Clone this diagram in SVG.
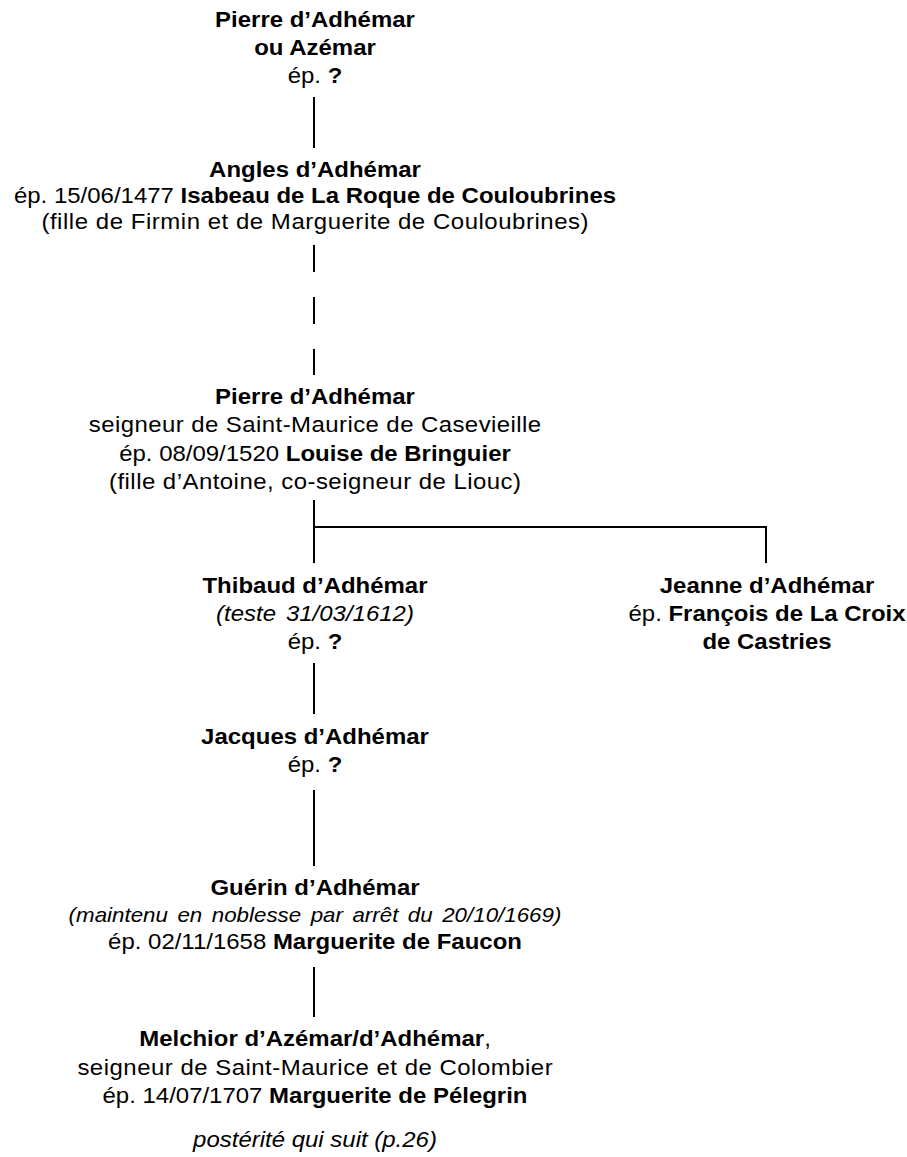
<svg xmlns="http://www.w3.org/2000/svg" width="907" height="1157" viewBox="0 0 907 1157">
<style>
text { font-family: "Liberation Sans", Arial, Helvetica, sans-serif; font-size: 22px; fill: #000; text-anchor: middle; }
.b { font-weight: bold; }
.i { font-style: italic; }
.ln { stroke: #000; stroke-width: 2; fill: none; }
</style>
<rect x="0" y="0" width="907" height="1157" fill="#fff"/>
<g id="connectors" class="ln">
  <line x1="314" y1="97" x2="314" y2="148"/>
  <line x1="314" y1="245" x2="314" y2="375" stroke-dasharray="27 25"/>
  <line x1="314" y1="500" x2="314" y2="563"/>
  <line x1="313" y1="527" x2="767" y2="527"/>
  <line x1="766" y1="527" x2="766" y2="563"/>
  <line x1="314" y1="663" x2="314" y2="714"/>
  <line x1="314" y1="790" x2="314" y2="866"/>
  <line x1="314" y1="967" x2="314" y2="1017"/>
</g>
<g transform="scale(1.09 1)">
  <g id="pierre1">
    <text x="289" y="27" class="b">Pierre d’Adhémar</text>
    <text x="289" y="55" class="b">ou Azémar</text>
    <text x="289" y="83">ép. <tspan class="b">?</tspan></text>
  </g>
  <g id="angles">
    <text x="289" y="177" class="b">Angles d’Adhémar</text>
    <text x="289" y="203">ép. 15/06/1477 <tspan class="b">Isabeau de La Roque de Couloubrines</tspan></text>
    <text x="289" y="229" textLength="502">(fille de Firmin et de Marguerite de Couloubrines)</text>
  </g>
  <g id="pierre2">
    <text x="289" y="404" class="b">Pierre d’Adhémar</text>
    <text x="289" y="432" textLength="415">seigneur de Saint-Maurice de Casevieille</text>
    <text x="289" y="461">ép. 08/09/1520 <tspan class="b">Louise de Bringuier</tspan></text>
    <text x="289" y="489" textLength="378">(fille d’Antoine, co-seigneur de Liouc)</text>
  </g>
  <g id="thibaud">
    <text x="289" y="593" class="b">Thibaud d’Adhémar</text>
    <text x="289" y="621" class="i" word-spacing="3">(teste 31/03/1612)</text>
    <text x="289" y="649">ép. <tspan class="b">?</tspan></text>
  </g>
  <g id="jeanne">
    <text x="703.7" y="593" class="b">Jeanne d’Adhémar</text>
    <text x="703.7" y="621">ép. <tspan class="b">François de La Croix</tspan></text>
    <text x="703.7" y="649" class="b">de Castries</text>
  </g>
  <g id="jacques">
    <text x="289" y="744" class="b">Jacques d’Adhémar</text>
    <text x="289" y="772">ép. <tspan class="b">?</tspan></text>
  </g>
  <g id="guerin">
    <text x="289" y="895" class="b">Guérin d’Adhémar</text>
    <text x="289" y="922" class="i" style="font-size:20.5px" word-spacing="3">(maintenu en noblesse par arrêt du 20/10/1669)</text>
    <text x="289" y="949">ép. 02/11/1658 <tspan class="b">Marguerite de Faucon</tspan></text>
  </g>
  <g id="melchior">
    <text x="289" y="1046"><tspan class="b">Melchior d’Azémar/d’Adhémar</tspan>,</text>
    <text x="289" y="1075" textLength="436">seigneur de Saint-Maurice et de Colombier</text>
    <text x="289" y="1103">ép. 14/07/1707 <tspan class="b">Marguerite de Pélegrin</tspan></text>
  </g>
  <g id="posterite">
    <text x="289" y="1147" class="i">postérité qui suit (p.26)</text>
  </g>
</g>
</svg>
